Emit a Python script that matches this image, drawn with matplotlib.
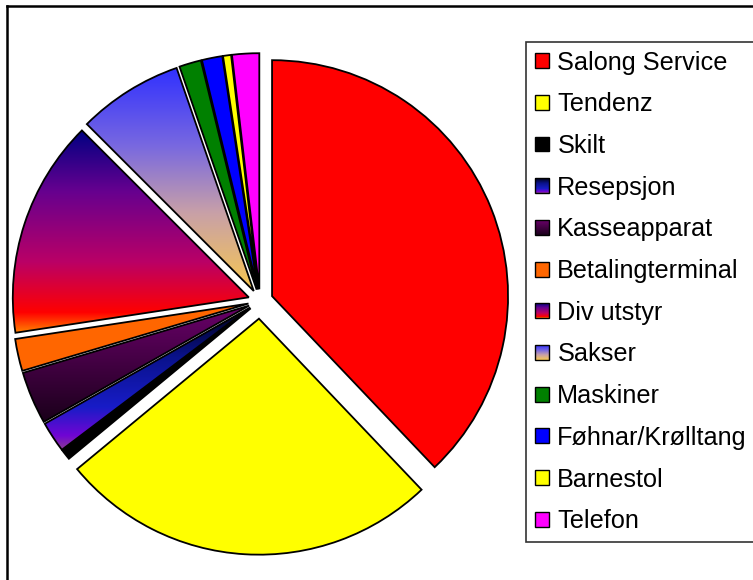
import numpy as np
import matplotlib
matplotlib.use("Agg")
import matplotlib.pyplot as plt
from matplotlib.lines import Line2D
from matplotlib.patches import Rectangle
from matplotlib.image import BboxImage
from matplotlib.transforms import Bbox, TransformedBbox
from matplotlib.legend_handler import HandlerBase
from matplotlib.colors import LinearSegmentedColormap

plt.rcParams['font.family'] = ['Liberation Sans', 'DejaVu Sans']

# ---- data ----
categories = ["Salong Service", "Tendenz", "Skilt", "Resepsjon", "Kasseapparat",
              "Betalingterminal", "Div utstyr", "Sakser", "Maskiner",
              "Føhnar/Krølltang", "Barnestol", "Telefon"]
values = [37.9, 26.1, 0.7, 2.1, 3.6, 2.2, 14.9, 7.2, 1.5, 1.4, 0.55, 1.85]
explode = [0.055, 0.075, 0.05, 0.05, 0.05, 0.05, 0.05, 0.05, 0.05, 0.05, 0.05, 0.05]
colors = ["#ff0000", "#ffff00", "#000000", "#14149a", "#400040", "#ff6600",
          "#8a0070", "#a08cc0", "#008000", "#0000ff", "#ffff00", "#ff00ff"]

# vertical gradients (top -> bottom) for some slices
gradients = {
    "Resepsjon": [(0.0, "#000010"), (0.35, "#0a128c"), (0.7, "#181cc7"),
                  (0.9, "#7005d4"), (1.0, "#8c3d91")],
    "Kasseapparat": [(0.0, "#6a006a"), (1.0, "#1a001a")],
    "Div utstyr": [(0.0, "#000082"), (0.30, "#66008f"), (0.65, "#ba0066"),
                   (0.90, "#ff0000"), (1.0, "#ff8200")],
    "Sakser": [(0.0, "#3030ff"), (0.35, "#7868e0"), (0.65, "#c8a0a8"),
               (1.0, "#f8c850")],
}

W, H = 753, 580
fig = plt.figure(figsize=(W / 100, H / 100), dpi=100)
ax = fig.add_axes([0, 0, 1, 1])

R_PX = 236.0
CX, CY = 260.0, 301.0  # pie centre in pixels from top-left

wedges, _ = ax.pie(values, explode=explode, colors=colors, startangle=90,
                   counterclock=False, radius=1.0,
                   wedgeprops=dict(edgecolor="black", linewidth=1.3))

ax.set_xlim(-CX / R_PX, (W - CX) / R_PX)
ax.set_ylim(-(H - CY) / R_PX, CY / R_PX)
ax.set_aspect("auto")
ax.axis("off")


def make_cmap(stops):
    return LinearSegmentedColormap.from_list("g", stops)


grad_col = np.linspace(0, 1, 256).reshape(-1, 1)


class HandlerGradient(HandlerBase):
    def __init__(self, cmap):
        super().__init__()
        self.cmap = cmap

    def create_artists(self, legend, orig_handle, xdescent, ydescent,
                       width, height, fontsize, trans):
        bb = Bbox.from_bounds(-xdescent, -ydescent, width, height)
        img = BboxImage(TransformedBbox(bb, trans), cmap=self.cmap,
                        interpolation="bilinear", origin="upper")
        img.set_data(grad_col)
        rect = Rectangle((-xdescent, -ydescent), width, height,
                         facecolor="none", edgecolor="black", linewidth=1.0,
                         transform=trans)
        return [img, rect]


handler_map = {}
for w, name in zip(wedges, categories):
    if name in gradients:
        handler_map[w] = HandlerGradient(make_cmap(gradients[name]))

leg = fig.legend(wedges, categories, loc="upper left",
                 bbox_to_anchor=(526 / W, 1 - 42 / H),
                 bbox_transform=fig.transFigure,
                 fontsize=18.2, frameon=True, fancybox=False, shadow=False,
                 borderpad=0.34, borderaxespad=0.0, handlelength=0.57,
                 handleheight=0.53, handletextpad=0.33, labelspacing=0.70,
                 handler_map=handler_map)
leg.get_frame().set_edgecolor("black")
leg.get_frame().set_linewidth(1.2)
for h in leg.legend_handles:
    if h is not None:
        try:
            h.set_edgecolor("black")
            h.set_linewidth(1.0)
        except Exception:
            pass

# apply gradient fills to slices
for w, name in zip(wedges, categories):
    if name in gradients:
        verts = w.get_path().transformed(w.get_patch_transform()).vertices
        x0, y0 = verts.min(axis=0)
        x1, y1 = verts.max(axis=0)
        im = ax.imshow(grad_col, cmap=make_cmap(gradients[name]),
                       extent=[x0, x1, y0, y1], origin="upper",
                       aspect="auto", interpolation="bilinear",
                       zorder=w.get_zorder() + 0.1)
        im.set_clip_path(w)
        w.set_facecolor("none")
        w.set_zorder(w.get_zorder() + 0.2)

ax.set_xlim(-CX / R_PX, (W - CX) / R_PX)
ax.set_ylim(-(H - CY) / R_PX, CY / R_PX)

# outer chart-area border (left and top visible)
fig.add_artist(Line2D([7 / W, 7 / W], [0, 1 - 6.3 / H], transform=fig.transFigure,
                      color="black", linewidth=1.8, solid_capstyle="projecting"))
fig.add_artist(Line2D([7 / W, 1], [1 - 6.3 / H, 1 - 6.3 / H], transform=fig.transFigure,
                      color="black", linewidth=1.8, solid_capstyle="projecting"))

fig.savefig("out.png", dpi=100)
